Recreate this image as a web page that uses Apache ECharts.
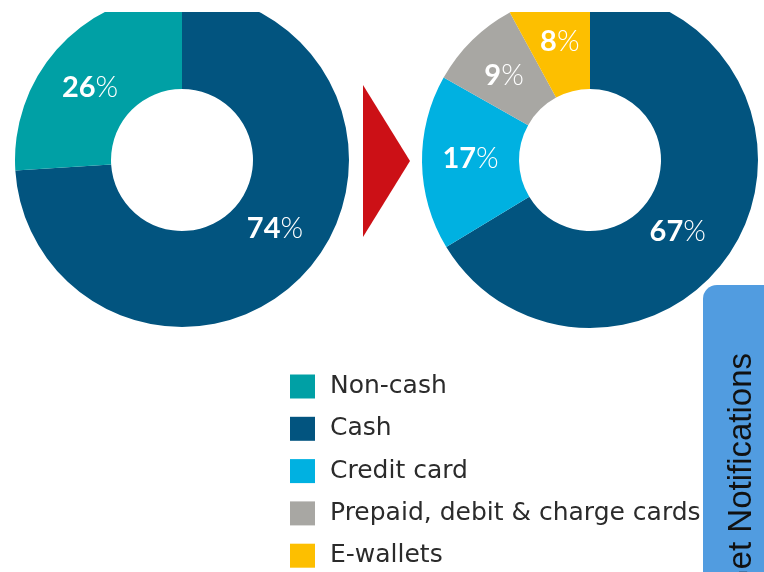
<!DOCTYPE html>
<html>
<head>
<meta charset="utf-8">
<script src="https://cdn.jsdelivr.net/npm/echarts@6/dist/echarts.min.js"></script>
<style>
html,body{margin:0;padding:0;background:#fff;}
#chart{width:764px;height:572px;}
</style>
</head>
<body>
<div id="chart"></div>
<script>
// Data
const beforeNames = ['Cash', 'Non-cash'];
const beforeValues = [74, 26];
const afterNames = ['Cash', 'Credit card', 'Prepaid, debit & charge cards', 'E-wallets'];
const afterValues = [67, 17, 9, 8];
const legendNames = ['Non-cash', 'Cash', 'Credit card', 'Prepaid, debit & charge cards', 'E-wallets'];
const sideButtonText = 'Get Notifications';

const colors = {
  'Non-cash': '#00A0A5',
  'Cash': '#02547F',
  'Credit card': '#00B1E1',
  'Prepaid, debit & charge cards': '#A8A7A3',
  'E-wallets': '#FDBF00'
};

// label nudges (styling only)
const beforeLabelOffset = { 'Cash': [4, -15], 'Non-cash': [-3, 11] };
const afterLabelOffset = { 'Cash': [-19, 11], 'Credit card': [3, -3], 'Prepaid, debit & charge cards': [0, 3] };

function toData(names, values, offsets) {
  return names.map((n, i) => ({
    name: n, value: values[i],
    itemStyle: { color: colors[n] },
    label: { offset: offsets[n] || [0, 0] }
  }));
}

const labelFont = 'Lato, "Open Sans", sans-serif';
const labelStyle = {
  show: true,
  position: 'inside',
  formatter: '{n|{c}}{p|%}',
  rich: {
    n: { color: '#fff', fontSize: 29, fontWeight: 700, fontFamily: labelFont },
    p: { color: '#fff', fontSize: 29, fontWeight: 300, fontFamily: labelFont }
  }
};

const chart = echarts.init(document.getElementById('chart'), null, { renderer: 'canvas' });
chart.setOption({
  animation: false,
  backgroundColor: '#ffffff',
  legend: {
    orient: 'vertical',
    left: 290,
    top: 374,
    padding: 0,
    itemWidth: 25,
    itemHeight: 24,
    itemGap: 17.3,
    icon: 'rect',
    selectedMode: false,
    data: legendNames,
    textStyle: { fontSize: 25, lineHeight: 24, color: '#2b2b2b', fontFamily: '"DejaVu Sans", sans-serif', padding: [0, 0, 0, 10] }
  },
  series: [
    {
      type: 'pie',
      center: [182, 160],
      radius: [71, 167],
      startAngle: 90,
      clockwise: true,
      silent: true,
      label: labelStyle,
      labelLine: { show: false },
      data: toData(beforeNames, beforeValues, beforeLabelOffset)
    },
    {
      type: 'pie',
      center: [590, 160],
      radius: [71, 168],
      startAngle: 90,
      clockwise: true,
      silent: true,
      label: labelStyle,
      labelLine: { show: false },
      data: toData(afterNames, afterValues, afterLabelOffset)
    }
  ],
  graphic: [
    { type: 'rect', z: 100, shape: { x: 0, y: 0, width: 764, height: 12 }, style: { fill: '#fff' } },
    { type: 'polygon', z: 100, shape: { points: [[363, 85], [363, 237], [410, 161]] }, style: { fill: '#CC1016' } },
    { type: 'rect', z: 100, shape: { x: 703, y: 285, width: 90, height: 320, r: 14 }, style: { fill: '#519CE0' } },
    {
      type: 'text', z: 101, x: 742, y: 474, rotation: Math.PI / 2,
      style: { text: sideButtonText, fill: '#111', font: '33px "Liberation Sans", Arial, sans-serif', align: 'center', verticalAlign: 'middle' }
    }
  ]
});
</script>
</body>
</html>
